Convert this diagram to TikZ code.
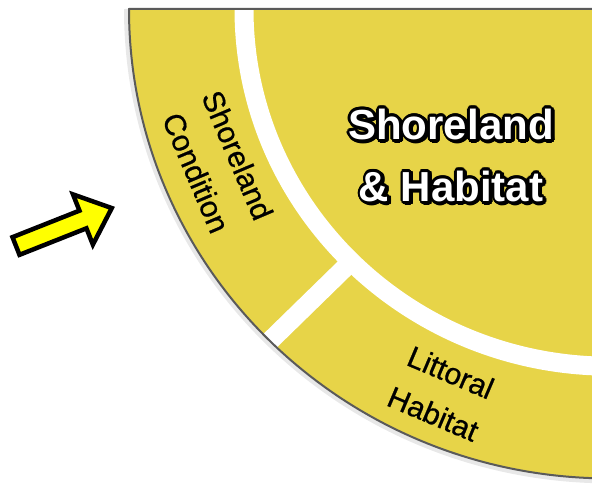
\documentclass[tikz,border=0pt]{standalone}
\usepackage{fontspec}
\setmainfont{Liberation Sans}
\newfontfamily\lblfont[FakeBold=0.7]{Liberation Sans}
\usetikzlibrary{calc}
\definecolor{wheel}{RGB}{231,212,72}
\definecolor{rim}{RGB}{90,90,90}
\definecolor{arrowyellow}{RGB}{255,255,0}
\tikzset{
  titletext/.style={font=\fontsize{42}{62}\selectfont\bfseries, align=center, inner sep=0pt},
  lbl/.style={font=\lblfont\fontsize{30}{45}\selectfont, align=center, inner sep=0pt, text=black},
  ringgap/.style={white, line width=19pt},
  rimline/.style={rim, line width=2pt, line join=round},
}
\begin{document}
\begin{tikzpicture}[x=1pt,y=1pt]
\useasboundingbox (0,0) rectangle (592,498);
\clip (0,0) rectangle (592,498);
\coordinate (C) at (610,489);
\begin{scope}[shift={(C)}, yscale=0.976]
  \draw[gray!18, line width=6pt] (180:483) arc[start angle=180, end angle=270, radius=483];
  \fill[wheel] (0,0) -- (180:481) arc[start angle=180, end angle=270, radius=481] -- cycle;
  \draw[ringgap] (180:366) arc[start angle=180, end angle=270, radius=366];
  \draw[ringgap] (225:366) -- (225:481);
  \draw[rimline] (0,0) -- (180:481) arc[start angle=180, end angle=270, radius=481];
\end{scope}
% title with outline and shadow
\coordinate (T) at (451,343);
\foreach \a in {0,22.5,...,337.5} {
  \node[titletext, text=black] at ($(T)+(\a:2.6pt)+(1.4pt,-1.4pt)$) {Shoreland\\\& Habitat};
  \node[titletext, text=black] at ($(T)+(\a:2.5pt)$) {Shoreland\\\& Habitat};
}
\node[titletext, text=white] (title) at (T) {Shoreland\\\& Habitat};
% ring labels
\node[lbl, rotate=-67] (cond) at (217,334) {Shoreland\\Condition};
\node[lbl, rotate=-23] (litt) at (442,105) {Littoral\\Habitat};
% arrow
\begin{scope}[shift={(16,252)}, rotate=21.6]
  \draw[black, fill=arrowyellow, line width=4.5pt, line join=miter]
    (0,-9.5) -- (72,-9.5) -- (72,-27) -- (103,0) -- (72,27) -- (72,9.5) -- (0,9.5) -- cycle;
\end{scope}
\end{tikzpicture}
\end{document}
